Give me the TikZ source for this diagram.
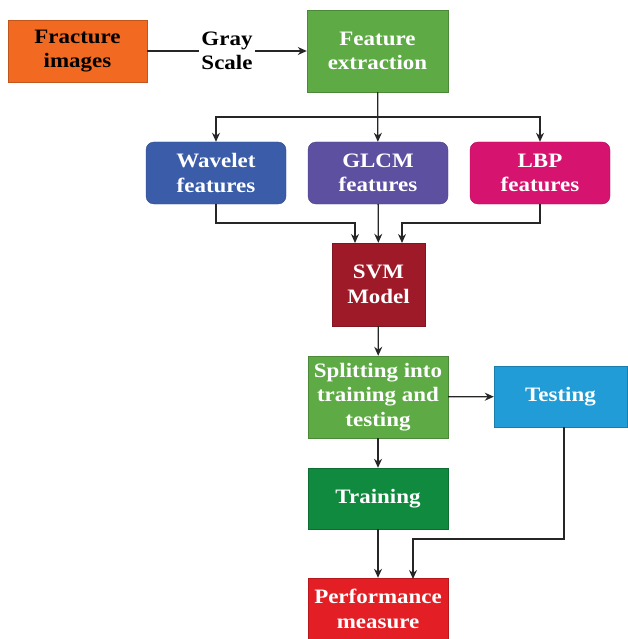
\documentclass[tikz,border=0pt]{standalone}
\usepackage{fontspec}
\setmainfont{Liberation Serif}[FakeStretch=1.12]
\usepackage{tikz}
\usetikzlibrary{positioning}
\usetikzlibrary{arrows.meta,calc}

\definecolor{fracorange}{HTML}{F26A22}
\definecolor{featgreen}{HTML}{5EAA45}
\definecolor{wavblue}{HTML}{3A5CA9}
\definecolor{glcmpurple}{HTML}{5E50A1}
\definecolor{lbpmag}{HTML}{D6136F}
\definecolor{svmred}{HTML}{9E1A28}
\definecolor{testblue}{HTML}{229CD6}
\definecolor{traingreen}{HTML}{108A3E}
\definecolor{perfred}{HTML}{E31E25}

\tikzset{
  box/.style={draw=#1!80!black, fill=#1, text=white, align=center, inner sep=0pt,
              font=\fontsize{20.5}{24.5}\selectfont\bfseries},
  rbox/.style={box=#1, rounded corners=8pt},
  conn/.style={draw=black!85, line width=1.3pt},
  arr/.style={conn, -{Stealth[length=9pt,width=8pt]}}
}

\begin{document}
\begin{tikzpicture}[x=1pt, y=-1pt]

 \useasboundingbox (0,0) rectangle (628,639);

 \def\w{140};
 \def\h{62};

	%top row
 \node[box=fracorange, text=black, minimum width=139pt, minimum height=62pt] (frac) at (77.5,51) {Fracture\\images};
 \node[box=featgreen, minimum width=141pt, minimum height=82pt] (feat) at (377.5,51) {Feature\\extraction};

	%feature boxes
    \foreach \x/\txt/\col/\name in {216/Wavelet/wavblue/wav, 378/GLCM/glcmpurple/glcm, 540/LBP/lbpmag/lbp}{
        \node[rbox=\col, minimum width=\w pt, minimum height=\h pt] (\name) at (\x,173) {\txt\\features};
    }

	%model and steps
 \node[box=svmred, minimum width=93pt, minimum height=83pt] (svm) at (378.5,284.5) {SVM\\Model};
 \node[box=featgreen, minimum width=\w pt, minimum height=82pt] (split) at (378,397) {Splitting into\\training and\\testing};
 \node[box=testblue, minimum width=133pt, minimum height=61pt] (test) at (560.5,396.5) {Testing};
 \node[box=traingreen, minimum width=\w pt, minimum height=61pt] (train) at (378,498.5) {Training};
 \node[box=perfred, minimum width=\w pt, minimum height=62pt] (perf) at (378,609) {Performance\\measure};

	%helper points
 \coordinate (fork) at (377.5,117);
 \coordinate (join) at (378,223);
 \coordinate (inL) at (355,243);
 \coordinate (inR) at (402,243);
 \coordinate (bend) at (564,539);
 \coordinate (inP) at (413,579);

	%connectors
 \draw[arr] (frac) -- node[fill=white, text=black, align=center, inner sep=2pt,
        font=\fontsize{20.5}{24.5}\selectfont\bfseries] (gray) {Gray\\Scale} (feat);
 \draw[arr] (feat) -- (glcm);
 \draw[arr] (fork) -| (wav);
 \draw[arr] (fork) -| (lbp);
 \draw[arr] (wav.south) -- (wav.south |- join) -| (inL);
 \draw[arr] (glcm) -- (svm);
 \draw[arr] (lbp.south) -- (lbp.south |- join) -| (inR);
 \draw[arr] (svm) -- (split);
 \draw[arr] (split) -- (test);
 \draw[arr] (split) -- (train);
 \draw[arr] (train) -- (perf);
 \draw[arr] (test.south -| bend) -- (bend) -| (inP);

\end{tikzpicture}
\end{document}
